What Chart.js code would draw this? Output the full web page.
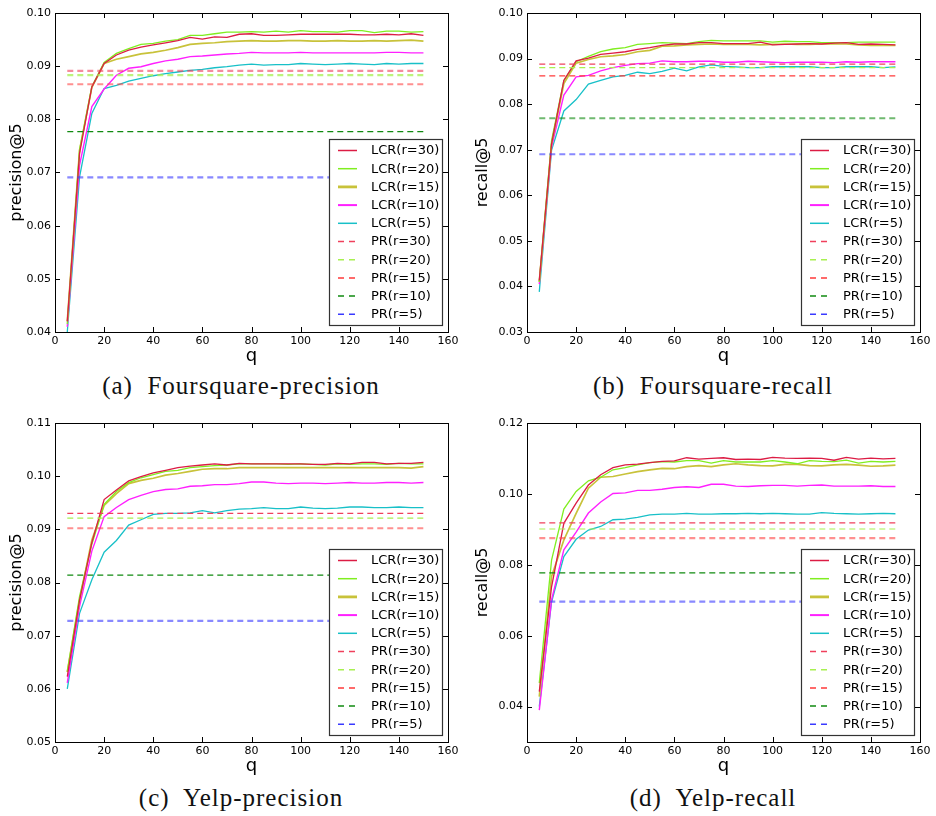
<!DOCTYPE html>
<html>
<head>
<meta charset="utf-8">
<script src="https://cdn.jsdelivr.net/npm/chart.js@4.4.1/dist/chart.umd.min.js"></script>
<style>
  body { margin: 0; background: #fff; width: 936px; height: 816px; position: relative; overflow: hidden; }
  canvas { position: absolute; }
  .cap { position: absolute; font-family: "Liberation Serif", "Times New Roman", serif; font-size: 25px; color: #111;
         letter-spacing: 1px; transform: translate(-50%, -50%); white-space: pre; }
</style>
</head>
<body>
<canvas id="chartA" width="466" height="370" style="left:0;top:0"></canvas>
<canvas id="chartB" width="470" height="370" style="left:466px;top:0"></canvas>
<canvas id="chartC" width="466" height="370" style="left:0;top:410px"></canvas>
<canvas id="chartD" width="470" height="370" style="left:466px;top:410px"></canvas>
<div class="cap" style="left:241px;top:386px">(a)  Foursquare-precision</div>
<div class="cap" style="left:713px;top:386px">(b)  Foursquare-recall</div>
<div class="cap" style="left:241px;top:798px">(c)  Yelp-precision</div>
<div class="cap" style="left:713px;top:798px">(d)  Yelp-recall</div>
<script>
// x values (q)
const qValues = [5, 10, 15, 20, 25, 30, 35, 40, 45, 50, 55, 60, 65, 70, 75, 80, 85, 90, 95, 100,
                 105, 110, 115, 120, 125, 130, 135, 140, 145, 150];
const xTicks = [0, 20, 40, 60, 80, 100, 120, 140, 160];

const lcrLabels = ['LCR(r=30)', 'LCR(r=20)', 'LCR(r=15)', 'LCR(r=10)', 'LCR(r=5)'];
const prLabels  = ['PR(r=30)', 'PR(r=20)', 'PR(r=15)', 'PR(r=10)', 'PR(r=5)'];

// (a) Foursquare precision@5
const fsPrecTicks = [0.04, 0.05, 0.06, 0.07, 0.08, 0.09, 0.10];
const fsPrecR30 = [0.0420, 0.0736, 0.0861, 0.0905, 0.0921, 0.0930, 0.0936, 0.0940, 0.0944, 0.0948, 0.0954, 0.0951, 0.0955, 0.0954, 0.0960, 0.0961, 0.0958, 0.0958, 0.0959, 0.0960, 0.0960, 0.0960, 0.0960, 0.0960, 0.0959, 0.0959, 0.0960, 0.0959, 0.0961, 0.0958];
const fsPrecR20 = [0.0415, 0.0742, 0.0862, 0.0907, 0.0924, 0.0933, 0.0941, 0.0943, 0.0947, 0.0950, 0.0958, 0.0958, 0.0961, 0.0964, 0.0964, 0.0965, 0.0964, 0.0966, 0.0964, 0.0967, 0.0965, 0.0965, 0.0964, 0.0967, 0.0967, 0.0963, 0.0966, 0.0966, 0.0964, 0.0965];
const fsPrecR15 = [0.0420, 0.0742, 0.0860, 0.0905, 0.0913, 0.0918, 0.0923, 0.0926, 0.0930, 0.0935, 0.0941, 0.0943, 0.0944, 0.0946, 0.0947, 0.0948, 0.0947, 0.0947, 0.0948, 0.0948, 0.0947, 0.0947, 0.0948, 0.0947, 0.0947, 0.0948, 0.0947, 0.0948, 0.0949, 0.0947];
const fsPrecR10 = [0.0410, 0.0714, 0.0824, 0.0857, 0.0883, 0.0896, 0.0899, 0.0905, 0.0910, 0.0913, 0.0918, 0.0919, 0.0921, 0.0923, 0.0924, 0.0926, 0.0925, 0.0925, 0.0925, 0.0926, 0.0925, 0.0925, 0.0925, 0.0925, 0.0925, 0.0925, 0.0926, 0.0926, 0.0925, 0.0925];
const fsPrecR5  = [0.0400, 0.0692, 0.0811, 0.0858, 0.0864, 0.0872, 0.0877, 0.0882, 0.0886, 0.0889, 0.0892, 0.0894, 0.0897, 0.0899, 0.0902, 0.0904, 0.0902, 0.0903, 0.0903, 0.0905, 0.0904, 0.0903, 0.0904, 0.0905, 0.0904, 0.0903, 0.0905, 0.0904, 0.0905, 0.0905];
const fsPrecPR  = [0.0891, 0.0883, 0.0866, 0.0777, 0.0691];

// (b) Foursquare recall@5
const fsRecTicks = [0.03, 0.04, 0.05, 0.06, 0.07, 0.08, 0.09, 0.10];
const fsRecR30 = [0.0413, 0.0713, 0.0852, 0.0895, 0.0901, 0.0909, 0.0912, 0.0915, 0.0920, 0.0924, 0.0929, 0.0932, 0.0932, 0.0935, 0.0935, 0.0933, 0.0933, 0.0933, 0.0936, 0.0930, 0.0931, 0.0932, 0.0933, 0.0932, 0.0934, 0.0935, 0.0931, 0.0932, 0.0931, 0.0930];
const fsRecR20 = [0.0410, 0.0720, 0.0852, 0.0893, 0.0905, 0.0915, 0.0921, 0.0924, 0.0931, 0.0933, 0.0935, 0.0934, 0.0933, 0.0937, 0.0940, 0.0939, 0.0939, 0.0939, 0.0939, 0.0936, 0.0938, 0.0937, 0.0937, 0.0935, 0.0935, 0.0935, 0.0936, 0.0936, 0.0936, 0.0936];
const fsRecR15 = [0.0410, 0.0713, 0.0845, 0.0890, 0.0898, 0.0904, 0.0906, 0.0909, 0.0915, 0.0918, 0.0927, 0.0928, 0.0930, 0.0931, 0.0932, 0.0931, 0.0931, 0.0931, 0.0930, 0.0931, 0.0932, 0.0931, 0.0931, 0.0932, 0.0932, 0.0932, 0.0930, 0.0929, 0.0929, 0.0929];
const fsRecR10 = [0.0405, 0.0706, 0.0820, 0.0860, 0.0863, 0.0873, 0.0880, 0.0885, 0.0889, 0.0890, 0.0895, 0.0893, 0.0893, 0.0894, 0.0894, 0.0892, 0.0892, 0.0894, 0.0893, 0.0892, 0.0891, 0.0892, 0.0892, 0.0892, 0.0891, 0.0893, 0.0892, 0.0893, 0.0893, 0.0893];
const fsRecR5  = [0.0388, 0.0699, 0.0785, 0.0810, 0.0844, 0.0852, 0.0860, 0.0863, 0.0870, 0.0867, 0.0872, 0.0879, 0.0873, 0.0882, 0.0886, 0.0883, 0.0882, 0.0880, 0.0880, 0.0882, 0.0882, 0.0882, 0.0882, 0.0880, 0.0880, 0.0882, 0.0882, 0.0882, 0.0880, 0.0882];
const fsRecPR  = [0.0888, 0.0880, 0.0862, 0.0769, 0.0690];

// (c) Yelp precision@5
const ypPrecTicks = [0.05, 0.06, 0.07, 0.08, 0.09, 0.10, 0.11];
const ypPrecR30 = [0.0623, 0.0767, 0.0875, 0.0956, 0.0974, 0.0991, 0.0999, 0.1006, 0.1011, 0.1016, 0.1019, 0.1021, 0.1023, 0.1021, 0.1024, 0.1023, 0.1023, 0.1023, 0.1023, 0.1023, 0.1022, 0.1022, 0.1024, 0.1023, 0.1026, 0.1026, 0.1023, 0.1024, 0.1024, 0.1026];
const ypPrecR20 = [0.0632, 0.0774, 0.0872, 0.0947, 0.0971, 0.0988, 0.0997, 0.1003, 0.1009, 0.1011, 0.1016, 0.1018, 0.1020, 0.1021, 0.1023, 0.1023, 0.1023, 0.1023, 0.1022, 0.1023, 0.1022, 0.1021, 0.1023, 0.1022, 0.1023, 0.1023, 0.1022, 0.1024, 0.1023, 0.1023];
const ypPrecR15 = [0.0632, 0.0767, 0.0880, 0.0945, 0.0967, 0.0986, 0.0992, 0.0996, 0.1002, 0.1005, 0.1009, 0.1013, 0.1014, 0.1014, 0.1016, 0.1016, 0.1016, 0.1016, 0.1016, 0.1016, 0.1016, 0.1016, 0.1016, 0.1016, 0.1016, 0.1016, 0.1016, 0.1016, 0.1015, 0.1018];
const ypPrecR10 = [0.0611, 0.0755, 0.0859, 0.0924, 0.0941, 0.0956, 0.0964, 0.0971, 0.0975, 0.0976, 0.0981, 0.0982, 0.0984, 0.0984, 0.0986, 0.0989, 0.0989, 0.0987, 0.0986, 0.0987, 0.0987, 0.0986, 0.0987, 0.0988, 0.0987, 0.0987, 0.0988, 0.0988, 0.0987, 0.0988];
const ypPrecR5  = [0.0600, 0.0742, 0.0805, 0.0857, 0.0879, 0.0908, 0.0918, 0.0928, 0.0930, 0.0930, 0.0931, 0.0935, 0.0931, 0.0935, 0.0938, 0.0939, 0.0941, 0.0939, 0.0939, 0.0942, 0.0940, 0.0939, 0.0940, 0.0942, 0.0942, 0.0941, 0.0941, 0.0942, 0.0941, 0.0941];
const ypPrecPR  = [0.0930, 0.0921, 0.0902, 0.0814, 0.0728];

// (d) Yelp recall@5
const ypRecTicks = [0.04, 0.06, 0.08, 0.10, 0.12];
const ypRecR30 = [0.0442, 0.0738, 0.0917, 0.0974, 0.1025, 0.1054, 0.1074, 0.1082, 0.1084, 0.1088, 0.1092, 0.1093, 0.1102, 0.1098, 0.1100, 0.1102, 0.1097, 0.1098, 0.1097, 0.1103, 0.1101, 0.1100, 0.1101, 0.1100, 0.1095, 0.1103, 0.1098, 0.1101, 0.1099, 0.1100];
const ypRecR20 = [0.0466, 0.0813, 0.0957, 0.1007, 0.1037, 0.1047, 0.1068, 0.1074, 0.1082, 0.1088, 0.1091, 0.1090, 0.1094, 0.1094, 0.1087, 0.1094, 0.1090, 0.1090, 0.1090, 0.1094, 0.1090, 0.1085, 0.1094, 0.1092, 0.1091, 0.1095, 0.1087, 0.1092, 0.1090, 0.1092];
const ypRecR15 = [0.0428, 0.0767, 0.0870, 0.0945, 0.1016, 0.1047, 0.1049, 0.1056, 0.1063, 0.1068, 0.1072, 0.1071, 0.1077, 0.1080, 0.1077, 0.1082, 0.1085, 0.1082, 0.1080, 0.1079, 0.1083, 0.1083, 0.1080, 0.1079, 0.1082, 0.1083, 0.1081, 0.1078, 0.1079, 0.1081];
const ypRecR10 = [0.0390, 0.0701, 0.0842, 0.0892, 0.0946, 0.0977, 0.1001, 0.1003, 0.1010, 0.1010, 0.1013, 0.1018, 0.1020, 0.1018, 0.1027, 0.1027, 0.1022, 0.1021, 0.1023, 0.1024, 0.1024, 0.1022, 0.1024, 0.1025, 0.1022, 0.1022, 0.1022, 0.1023, 0.1021, 0.1021];
const ypRecR5  = [0.0400, 0.0695, 0.0823, 0.0872, 0.0898, 0.0908, 0.0927, 0.0929, 0.0934, 0.0941, 0.0943, 0.0943, 0.0945, 0.0943, 0.0943, 0.0944, 0.0944, 0.0945, 0.0944, 0.0945, 0.0944, 0.0943, 0.0943, 0.0947, 0.0945, 0.0944, 0.0943, 0.0944, 0.0945, 0.0944];
const ypRecPR  = [0.0918, 0.0901, 0.0875, 0.0777, 0.0696];

// --- styles ---
const lcrColors = ['#dc1c44', '#80ee20', '#c8c23a', '#ff20ff', '#18c0c8'];
const lcrWidths = [1.3, 1.3, 1.7, 1.4, 1.3];
const lcrLegendWidths = [1.5, 1.5, 2.8, 2, 1.5];
const prColors  = ['#f0405c', '#a8f050', '#ff3a3a', '#108a10', '#3a3aff'];
const prFaded   = ['rgba(240,64,92,0.6)', 'rgba(168,240,80,0.75)', 'rgba(255,70,70,0.6)', 'rgba(16,138,16,0.6)', 'rgba(58,58,255,0.6)'];

const FONT = '"DejaVu Sans", "Liberation Sans", sans-serif';

// legend drawn inside the plot, lower right
const insideLegend = {
    id: 'insideLegend',
    afterDatasetsDraw(chart) {
        const { ctx, chartArea } = chart;
        const w = 113, h = 186;
        const x = chartArea.right - 6 - w;
        const y = chartArea.bottom - 7 - h;
        ctx.save();
        ctx.fillStyle = '#fff';
        ctx.fillRect(x, y, w, h);
        ctx.strokeStyle = '#333';
        ctx.lineWidth = 1.2;
        ctx.strokeRect(x + 0.5, y + 0.5, w, h);
        ctx.font = '13px ' + FONT;
        ctx.textBaseline = 'middle';
        chart.data.datasets.forEach((ds, i) => {
            const ry = y + 11.5 + i * 18.2;
            ctx.beginPath();
            ctx.strokeStyle = ds.legendColor;
            ctx.lineWidth = ds.legendWidth;
            ctx.setLineDash(ds.borderDash ? [6, 5] : []);
            ctx.moveTo(x + 9, ry);
            ctx.lineTo(x + 28, ry);
            ctx.stroke();
            ctx.setLineDash([]);
            ctx.fillStyle = '#000';
            ctx.fillText(ds.label, x + 42, ry + 0.5);
        });
        ctx.restore();
    }
};

// box frame with inward ticks on all four sides
const frameTicks = {
    id: 'frameTicks',
    afterDraw(chart) {
        const { ctx, chartArea: a, scales } = chart;
        ctx.save();
        ctx.strokeStyle = '#000';
        ctx.lineWidth = 1;
        ctx.strokeRect(Math.round(a.left) + 0.5, Math.round(a.top) + 0.5,
                       Math.round(a.right - a.left), Math.round(a.bottom - a.top));
        ctx.beginPath();
        scales.x.ticks.forEach(t => {
            const px = Math.round(scales.x.getPixelForValue(t.value)) + 0.5;
            ctx.moveTo(px, a.bottom); ctx.lineTo(px, a.bottom - 5);
            ctx.moveTo(px, a.top); ctx.lineTo(px, a.top + 5);
        });
        scales.y.ticks.forEach(t => {
            const py = Math.round(scales.y.getPixelForValue(t.value)) + 0.5;
            ctx.moveTo(a.left, py); ctx.lineTo(a.left + 5, py);
            ctx.moveTo(a.right, py); ctx.lineTo(a.right - 5, py);
        });
        ctx.stroke();
        ctx.restore();
    }
};

function makeChart(id, yTitle, yMin, yMax, yTicks, yAxisWidth, rightPad, lcr, pr, prThick) {
    const datasets = [];
    lcr.forEach((vals, i) => {
        datasets.push({
            label: lcrLabels[i],
            data: qValues.map((q, k) => ({ x: q, y: vals[k] })),
            borderColor: lcrColors[i],
            borderWidth: lcrWidths[i],
            legendColor: lcrColors[i],
            legendWidth: lcrLegendWidths[i],
            pointRadius: 0,
            tension: 0,
            order: 2
        });
    });
    pr.forEach((v, i) => {
        datasets.push({
            label: prLabels[i],
            data: [{ x: qValues[0], y: v }, { x: qValues[qValues.length - 1], y: v }],
            borderColor: prThick[i] ? prFaded[i] : prColors[i],
            borderWidth: prThick[i] ? 2.2 : 1.2,
            borderDash: [6, 4],
            legendColor: prColors[i],
            legendWidth: 1.5,
            pointRadius: 0,
            order: 1
        });
    });

    return new Chart(document.getElementById(id), {
        type: 'line',
        data: { datasets },
        plugins: [insideLegend, frameTicks],
        options: {
            responsive: false,
            animation: false,
            layout: { padding: { left: 0, top: 13, right: rightPad, bottom: 0 } },
            plugins: { legend: { display: false }, tooltip: { enabled: false } },
            scales: {
                x: {
                    type: 'linear', min: 0, max: 160,
                    grid: { display: false, drawTicks: false },
                    border: { display: false },
                    ticks: { padding: 3, color: '#000', font: { family: FONT, size: 11 } },
                    afterBuildTicks(scale) { scale.ticks = xTicks.map(v => ({ value: v })); },
                    title: { display: true, text: 'q', color: '#000', padding: { top: 0, bottom: 3 },
                             font: { family: FONT, size: 18 } },
                    afterFit(scale) { scale.height = 38; }
                },
                y: {
                    type: 'linear', min: yMin, max: yMax,
                    grid: { display: false, drawTicks: false },
                    border: { display: false },
                    ticks: { padding: 4, color: '#000', font: { family: FONT, size: 11 },
                             callback: v => v.toFixed(2) },
                    afterBuildTicks(scale) { scale.ticks = yTicks.map(v => ({ value: v })); },
                    title: { display: true, text: yTitle, color: '#000', padding: { top: 7, bottom: 0 },
                             font: { family: FONT, size: 16 } },
                    afterFit(scale) { scale.width = yAxisWidth; }
                }
            }
        }
    });
}

makeChart('chartA', 'precision@5', 0.04, 0.10, fsPrecTicks, 55, 18,
    [fsPrecR30, fsPrecR20, fsPrecR15, fsPrecR10, fsPrecR5], fsPrecPR, [1, 1, 1, 0, 1]);
makeChart('chartB', 'recall@5', 0.03, 0.10, fsRecTicks, 61, 16,
    [fsRecR30, fsRecR20, fsRecR15, fsRecR10, fsRecR5], fsRecPR, [0, 0, 0, 1, 1]);
makeChart('chartC', 'precision@5', 0.05, 0.11, ypPrecTicks, 55, 18,
    [ypPrecR30, ypPrecR20, ypPrecR15, ypPrecR10, ypPrecR5], ypPrecPR, [0, 0, 1, 0, 1]);
makeChart('chartD', 'recall@5', 0.03, 0.12, ypRecTicks, 61, 16,
    [ypRecR30, ypRecR20, ypRecR15, ypRecR10, ypRecR5], ypRecPR, [0, 0, 1, 0, 1]);
</script>
</body>
</html>
